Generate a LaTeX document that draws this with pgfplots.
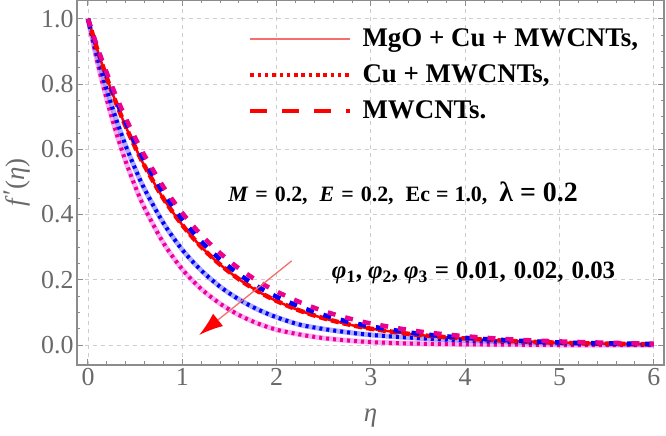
\documentclass[border=0pt]{standalone}
\usepackage{fontspec}
\setmainfont{Liberation Serif}
\usepackage{pgfplots}
\usepackage{pgfplotstable}
\pgfplotsset{compat=1.18}
\usetikzlibrary{arrows.meta}
\definecolor{tickgray}{RGB}{105,105,105}
\definecolor{axgray}{RGB}{140,140,140}
\definecolor{gridgray}{RGB}{205,205,205}
\definecolor{lred}{RGB}{245,110,110}
\definecolor{lblue}{RGB}{140,140,245}
\definecolor{lmag}{RGB}{245,140,245}
\pgfplotstableread{
eta M B R BD MD
0 1 1 1 1 1
0.1 0.867 0.884 0.905 0.909 0.913
0.2 0.752 0.782 0.819 0.826 0.834
0.3 0.651 0.691 0.741 0.751 0.762
0.4 0.563 0.611 0.670 0.682 0.696
0.5 0.487 0.541 0.607 0.620 0.636
0.6 0.420 0.478 0.549 0.564 0.581
0.8 0.313 0.374 0.449 0.466 0.485
1.0 0.232 0.292 0.368 0.385 0.405
1.2 0.172 0.229 0.301 0.318 0.338
1.4 0.127 0.179 0.247 0.263 0.282
1.6 0.092 0.140 0.202 0.217 0.235
1.8 0.066 0.109 0.165 0.179 0.196
2.0 0.047 0.085 0.135 0.148 0.164
2.25 0.032 0.062 0.105 0.117 0.131
2.5 0.021 0.049 0.082 0.092 0.104
2.75 0.014 0.039 0.064 0.072 0.083
3.0 0.009 0.031 0.050 0.057 0.066
3.5 0.004 0.021 0.031 0.035 0.042
4.0 0.002 0.014 0.020 0.022 0.027
4.5 0.001 0.009 0.012 0.014 0.017
5.0 0.000 0.005 0.007 0.008 0.011
5.5 0.000 0.003 0.004 0.005 0.007
6.0 0.000 0.001 0.002 0.003 0.004
}\datatable
\begin{document}
\begin{tikzpicture}
\path[use as bounding box] (0,0) rectangle (666bp,436bp);
\begin{axis}[
  at={(77bp,71bp)}, anchor=south west,
  scale only axis, width=587bp, height=365bp,
  xmin=-0.1166, xmax=6.108, ymin=-0.0613, ymax=1.058,
  xtick={0,1,2,3,4,5,6},
  ytick={0,0.2,0.4,0.6,0.8,1.0},
  minor x tick num=4, minor y tick num=3,
  grid=major,
  major grid style={gridgray, dash pattern=on 4bp off 4bp, line width=0.9bp},
  axis line style={axgray, line width=1.3bp},
  tick style={axgray, line width=1bp},
  tick align=inside,
  major tick length=6bp, minor tick length=3.5bp,
  /pgf/number format/assume math mode=true,
  ticklabel style={font=\fontsize{26}{26}\selectfont, text=tickgray},
  yticklabel style={/pgf/number format/fixed, /pgf/number format/fixed zerofill, /pgf/number format/precision=1},
  xlabel={\textit{η}},
  ylabel={\textit{f}\kern1bp\raisebox{3bp}{′}(\textit{η})},
  label style={font=\fontsize{27}{27}\selectfont, text=tickgray},
  xlabel style={yshift=-16bp},
  ylabel style={yshift=4bp},
  legend image code/.code={\draw[#1] (0bp,0bp) -- (100bp,0bp);},
  legend cell align=left,
  legend style={draw=none, fill=none, at={(axis description cs:0.286,0.937)}, anchor=north west,
    font=\bfseries\fontsize{27}{36}\selectfont, column sep=9bp,
    nodes={inner sep=1bp, text height=20bp, text depth=6bp}, row sep=8bp},
]
\addlegendimage{lred, line width=1.8bp}
\addlegendentry{MgO + Cu + MWCNTs,}
\addlegendimage{red, line width=4.5bp, dash pattern=on 3.5bp off 3.8bp}
\addlegendentry{Cu + MWCNTs,}
\addlegendimage{red, line width=4.5bp, dash pattern=on 17bp off 15bp}
\addlegendentry{MWCNTs.}

% light bands
\addplot[forget plot, lmag, line width=5bp, opacity=0.7, smooth] table[x=eta, y=M] {\datatable};
\addplot[forget plot, lblue, line width=5bp, opacity=0.7, smooth] table[x=eta, y=B] {\datatable};
\addplot[forget plot, red, line width=2.5bp, smooth] table[x=eta, y=R] {\datatable};
% dotted
\addplot[forget plot, magenta, line width=4bp, dash pattern=on 3bp off 4bp, smooth] table[x=eta, y=M] {\datatable};
\addplot[forget plot, blue, line width=4bp, dash pattern=on 3bp off 4bp, smooth] table[x=eta, y=B] {\datatable};
% dashed
\addplot[forget plot, red, line width=4.5bp, dash pattern=on 8bp off 4bp, smooth] table[x=eta, y=R] {\datatable};
\addplot[forget plot, blue, line width=4.5bp, dash pattern=on 8bp off 10bp, smooth] table[x=eta, y=BD] {\datatable};
\addplot[forget plot, magenta, line width=4.5bp, dash pattern=on 8bp off 10bp, smooth] table[x=eta, y=MD] {\datatable};

\node[font=\bfseries\fontsize{22}{22}\selectfont, anchor=west] at (axis cs:1.45,0.466)
  {\textit{M}\hspace{7bp}=\hspace{7bp}0.2,\hspace{12bp}\textit{E}\hspace{7bp}=\hspace{7bp}0.2,\hspace{12bp}Ec\hspace{6bp}=\hspace{6bp}1.0,\hspace{12bp}{\fontsize{28}{28}\selectfont λ\hspace{7bp}=\hspace{7bp}0.2}};
\node[font=\bfseries\fontsize{25}{25}\selectfont, anchor=west] at (axis cs:2.55,0.221)
  {\textit{φ}\textsubscript{1},\hspace{6bp}\textit{φ}\textsubscript{2},\hspace{6bp}\textit{φ}\textsubscript{3}\hspace{7bp}=\hspace{7bp}0.01,\hspace{8bp}0.02,\hspace{8bp}0.03};
\draw[lred, line width=1.3bp, -{Latex[length=24bp,width=16bp,fill=red,color=red]}] (axis cs:2.16,0.258) -- (axis cs:1.18,0.031);
\end{axis}
\end{tikzpicture}
\end{document}
